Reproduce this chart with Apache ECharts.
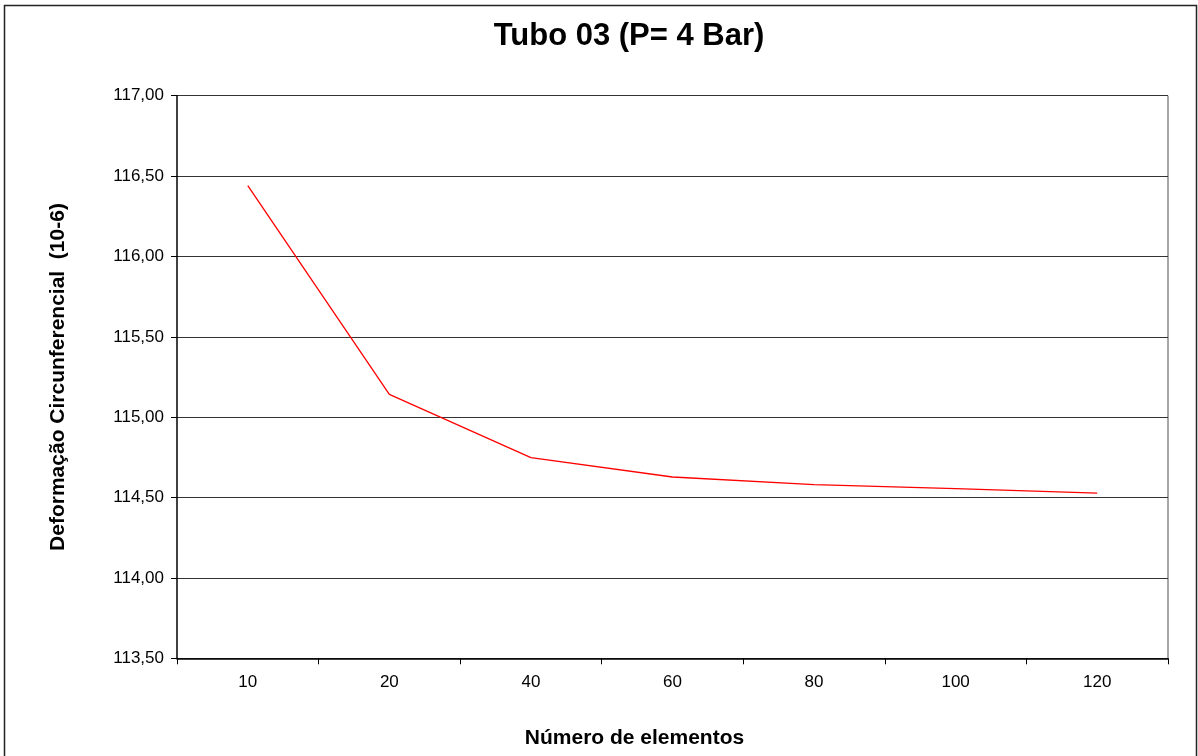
<!DOCTYPE html>
<html>
<head>
<meta charset="utf-8">
<script src="https://cdn.jsdelivr.net/npm/echarts@6/dist/echarts.min.js"></script>
<style>
html,body{margin:0;padding:0;background:#fff;}
#chart{width:1198px;height:756px;}
</style>
</head>
<body>
<div id="chart"></div>
<script>
const categories = ['10', '20', '40', '60', '80', '100', '120'];
const deformacao = [116.44, 115.142, 114.748, 114.628, 114.58, 114.555, 114.528];
const yMin = 113.5, yMax = 117.0, yStep = 0.5;

const chart = echarts.init(document.getElementById('chart'), null, {renderer: 'canvas'});
const font = '"Liberation Sans", Arial, sans-serif';
chart.setOption({
  animation: false,
  backgroundColor: '#fff',
  title: {
    text: 'Tubo 03 (P= 4 Bar)',
    left: 624, top: 16, textAlign: 'center',
    textStyle: {fontFamily: font, fontSize: 31, fontWeight: 'bold', color: '#000'}
  },
  graphic: [{
    type: 'rect', silent: true, z: -1,
    shape: {x: 4.5, y: 5.5, width: 1192, height: 770},
    style: {fill: 'none', stroke: '#222', lineWidth: 1.5}
  }, {
    type: 'line', silent: true,
    shape: {x1: 1168, y1: 95.7, x2: 1168, y2: 658.3},
    style: {stroke: '#888', lineWidth: 1.5}
  }],
  grid: {left: 177, right: 30, top: 95.7, bottom: 97.7, containLabel: false},
  xAxis: {
    type: 'category', data: categories, boundaryGap: true,
    name: 'Número de elementos', nameLocation: 'middle', nameGap: 69,
    nameTextStyle: {fontFamily: font, fontSize: 21, fontWeight: 'bold', color: '#000',
      padding: [0, 76, 0, 0]},
    axisLine: {lineStyle: {color: '#000', width: 1.5}},
    axisTick: {show: true, length: 6, lineStyle: {color: '#000'}},
    axisLabel: {fontFamily: font, fontSize: 17, color: '#000', margin: 16},
    splitLine: {show: false}
  },
  yAxis: {
    type: 'value', min: yMin, max: yMax, interval: yStep,
    name: 'Deformação Circunferencial  (10-6)', nameLocation: 'middle', nameGap: 108,
    nameTextStyle: {fontFamily: font, fontSize: 21, fontWeight: 'bold', color: '#000'},
    axisLine: {show: true, lineStyle: {color: '#000', width: 1.5}},
    axisTick: {show: true, length: 6, lineStyle: {color: '#000'}},
    axisLabel: {fontFamily: font, fontSize: 17, color: '#000', margin: 13,
      formatter: v => v.toFixed(2).replace('.', ',')},
    splitLine: {show: true, lineStyle: {color: '#333', width: 1.2}}
  },
  series: [{
    type: 'line', data: deformacao, showSymbol: false, symbol: 'none',
    lineStyle: {color: '#ff0000', width: 1.3}
  }]
});
</script>
</body>
</html>
